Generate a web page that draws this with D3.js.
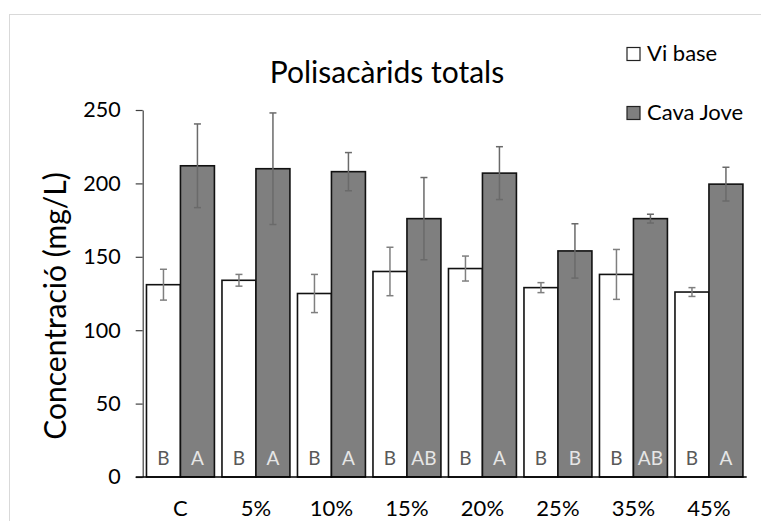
<!DOCTYPE html>
<html>
<head>
<meta charset="utf-8">
<script src="https://cdn.jsdelivr.net/npm/d3@7"></script>
<style>
  html, body { margin: 0; padding: 0; background: #fff; }
  svg text { font-family: Lato, "Open Sans", sans-serif; }
</style>
</head>
<body>
<svg id="chart" width="761" height="521"></svg>
<script>
// Total polysaccharides per treatment, base wine vs young cava
const categories = ["C", "5%", "10%", "15%", "20%", "25%", "35%", "45%"];
const seriesNames = ["Vi base", "Cava Jove"];
const viBase = [131, 134, 125, 140, 142, 129, 138, 126];
const viBaseErr = [10.5, 4, 13, 16.5, 8.5, 3.4, 17, 3];
const cavaJove = [212, 210, 208, 176, 207, 154, 176, 199.5];
const cavaJoveErr = [28.5, 38, 13, 28, 18, 18.5, 3, 11.5];
const viBaseLetters = ["B", "B", "B", "B", "B", "B", "B", "B"];
const cavaJoveLetters = ["A", "A", "A", "AB", "A", "B", "AB", "A"];
const yTicks = [0, 50, 100, 150, 200, 250];

const svg = d3.select("#chart");
const W = 761, H = 521;
const plot = { left: 142.7, right: 746.7, top: 110, bottom: 477 };

svg.append("rect").attr("width", W).attr("height", H).attr("fill", "#fff");
// chart frame
svg.append("rect")
  .attr("x", 9.5).attr("y", 14.5)
  .attr("width", 760).attr("height", 520)
  .attr("fill", "none").attr("stroke", "#d9d9d9").attr("stroke-width", 1);

const x = d3.scaleBand().domain(categories)
  .range([plot.left, plot.right]).paddingInner(0.1).paddingOuter(0.05);
const xs = d3.scaleBand().domain(seriesNames).range([0, x.bandwidth()]);
const y = d3.scaleLinear().domain([0, 250]).range([plot.bottom, plot.top]);

const series = [
  { name: "Vi base", values: viBase, err: viBaseErr, letters: viBaseLetters,
    fill: "#ffffff", letterColor: "#595959", errColor: "#7f7f7f" },
  { name: "Cava Jove", values: cavaJove, err: cavaJoveErr, letters: cavaJoveLetters,
    fill: "#7f7f7f", letterColor: "#e6e6e6", errColor: "#6a6a6a" }
];

// y axis
const yAxis = d3.axisLeft(y).tickValues(yTicks).tickSizeOuter(0).tickSizeInner(7).tickPadding(15);
const gy = svg.append("g").attr("transform", `translate(${plot.left},0)`).call(yAxis);
gy.select(".domain").attr("stroke", "#404040").attr("stroke-width", 1.2);
gy.selectAll(".tick line").attr("stroke", "#404040").attr("stroke-width", 1.2);
gy.selectAll(".tick text").attr("font-size", 21.5).attr("fill", "#000");

// bars
series.forEach(s => {
  const g = svg.append("g");
  g.selectAll("rect").data(categories).join("rect")
    .attr("x", (c) => x(c) + xs(s.name))
    .attr("y", (c, i) => y(s.values[i]))
    .attr("width", xs.bandwidth())
    .attr("height", (c, i) => y(0) - y(s.values[i]))
    .attr("fill", s.fill)
    .attr("stroke", "#111").attr("stroke-width", 1.6);
});

// error bars
series.forEach(s => {
  const g = svg.append("g").attr("stroke", s.errColor).attr("stroke-width", 1.5);
  categories.forEach((c, i) => {
    const cx = x(c) + xs(s.name) + xs.bandwidth() / 2;
    const hi = y(s.values[i] + s.err[i]);
    const lo = y(s.values[i] - s.err[i]);
    g.append("line").attr("x1", cx).attr("x2", cx).attr("y1", hi).attr("y2", lo);
    g.append("line").attr("x1", cx - 3.5).attr("x2", cx + 3.5).attr("y1", hi).attr("y2", hi);
    g.append("line").attr("x1", cx - 3.5).attr("x2", cx + 3.5).attr("y1", lo).attr("y2", lo);
  });
});

// significance letters
series.forEach(s => {
  svg.append("g").selectAll("text").data(categories).join("text")
    .attr("x", (c) => x(c) + xs(s.name) + xs.bandwidth() / 2)
    .attr("y", y(0) - 12.5)
    .attr("text-anchor", "middle")
    .attr("font-size", 19)
    .attr("fill", s.letterColor)
    .text((c, i) => s.letters[i]);
});

// x axis line
svg.append("line")
  .attr("x1", plot.left - 7).attr("x2", plot.right)
  .attr("y1", y(0)).attr("y2", y(0))
  .attr("stroke", "#000").attr("stroke-width", 1.5);

// category labels
svg.append("g").selectAll("text").data(categories).join("text")
  .attr("x", (c) => x(c) + x.bandwidth() / 2)
  .attr("y", 516)
  .attr("text-anchor", "middle")
  .attr("font-size", 22)
  .attr("fill", "#000")
  .text(d => d);

// title
svg.append("text")
  .attr("x", 387).attr("y", 83)
  .attr("text-anchor", "middle")
  .attr("font-size", 30)
  .attr("fill", "#000")
  .text("Polisacàrids totals");

// y axis title
svg.append("text")
  .attr("transform", "translate(66,306) rotate(-90)")
  .attr("text-anchor", "middle")
  .attr("font-size", 30)
  .attr("fill", "#000")
  .text("Concentració (mg/L)");

// legend
const legend = svg.append("g");
series.forEach((s, i) => {
  const ly = 47.5 + i * 59;
  legend.append("rect")
    .attr("x", 627).attr("y", ly).attr("width", 13).attr("height", 13)
    .attr("fill", s.fill).attr("stroke", "#222").attr("stroke-width", 1.2);
  legend.append("text")
    .attr("x", 647).attr("y", ly + 13.5)
    .attr("font-size", 22).attr("fill", "#000")
    .text(s.name);
});
</script>
</body>
</html>
